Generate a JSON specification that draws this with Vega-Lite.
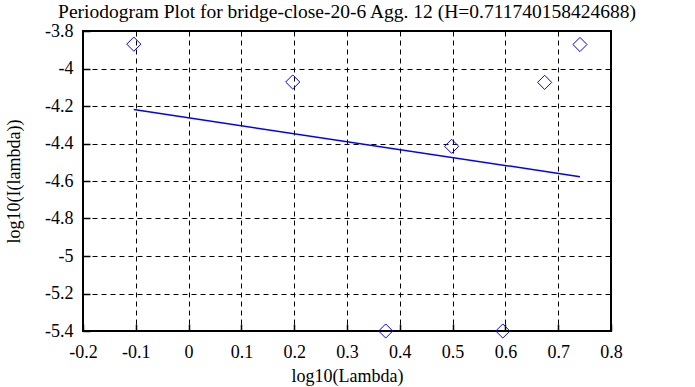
{
  "$schema": "https://vega.github.io/schema/vega-lite/v6.json",
  "width": 528,
  "height": 300,
  "autosize": {"type": "none"},
  "padding": {"left": 83, "top": 31, "right": 84, "bottom": 56},
  "background": "white",
  "title": {
    "text": "Periodogram Plot for bridge-close-20-6 Agg. 12 (H=0.711740158424688)",
    "font": "Liberation Serif",
    "fontSize": 19.5,
    "fontWeight": "normal",
    "color": "black",
    "anchor": "middle",
    "frame": "group",
    "baseline": "alphabetic",
    "offset": -15
  },
  "config": {
    "locale": {"number": {"decimal": ".", "thousands": ",", "grouping": [3], "currency": ["$", ""], "minus": "-"}},
    "view": {"stroke": "black", "strokeWidth": 2},
    "axis": {
      "labelFont": "Liberation Serif",
      "titleFont": "Liberation Serif",
      "labelFontSize": 18,
      "titleFontSize": 18,
      "titleFontWeight": "normal",
      "labelColor": "black",
      "titleColor": "black",
      "domain": false,
      "labelOverlap": false,
      "tickColor": "black",
      "tickWidth": 1.5,
      "gridColor": "black",
      "gridDash": [5, 4],
      "gridOpacity": 1,
      "gridWidth": 1
    }
  },
  "datasets": {
    "points": [
      {"lambda": -0.1038, "I": -3.870},
      {"lambda": 0.1972, "I": -4.072},
      {"lambda": 0.3733, "I": -5.400},
      {"lambda": 0.4982, "I": -4.415},
      {"lambda": 0.5951, "I": -5.400},
      {"lambda": 0.6743, "I": -4.074},
      {"lambda": 0.7412, "I": -3.872}
    ],
    "fit": [
      {"lambda": -0.1038, "I": -4.219},
      {"lambda": 0.7412, "I": -4.577}
    ]
  },
  "encoding": {
    "x": {
      "field": "lambda", "type": "quantitative",
      "scale": {"domain": [-0.2, 0.8], "nice": false, "zero": false},
      "axis": {
        "title": "log10(Lambda)",
        "values": [-0.2, -0.1, 0, 0.1, 0.2, 0.3, 0.4, 0.5, 0.6, 0.7, 0.8],
        "format": ".1~f",
        "ticks": true,
        "tickSize": -7,
        "labelPadding": 19,
        "titlePadding": 6,
        "labelFlush": false
      }
    },
    "y": {
      "field": "I", "type": "quantitative",
      "scale": {"domain": [-5.4, -3.8], "nice": false, "zero": false},
      "axis": {
        "title": "log10(I(lambda))",
        "values": [-5.4, -5.2, -5, -4.8, -4.6, -4.4, -4.2, -4, -3.8],
        "format": ".1~f",
        "ticks": true,
        "tickSize": -7,
        "labelPadding": 17,
        "titlePadding": 21,
        "labelFlush": false
      }
    }
  },
  "layer": [
    {
      "data": {"name": "fit"},
      "mark": {"type": "line", "color": "#0000ff", "strokeWidth": 1.5, "clip": true}
    },
    {
      "data": {"name": "points"},
      "mark": {"type": "point", "shape": "diamond", "size": 200, "filled": false, "color": "#0000ff", "strokeWidth": 1, "opacity": 1, "clip": false}
    }
  ]
}
